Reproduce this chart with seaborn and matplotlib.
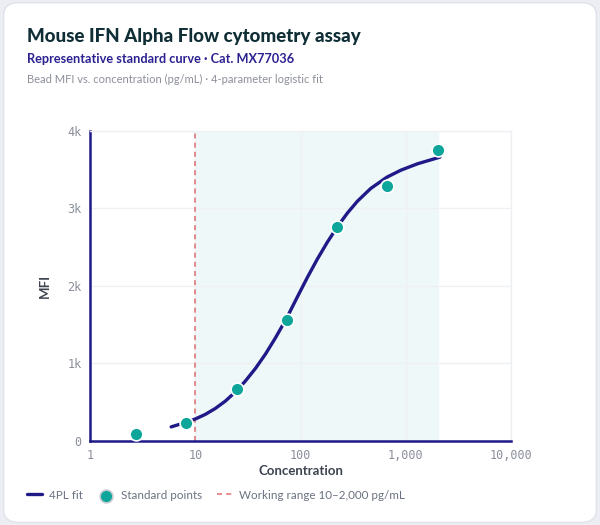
import pandas as pd
import matplotlib.pyplot as plt
import seaborn as sns
from matplotlib.patches import FancyBboxPatch

# Standard points (3-fold dilution series)
std_conc = [2.74, 8.23, 24.7, 74.1, 222, 667, 2000]
std_mfi = [94, 228, 667, 1565, 2757, 3286, 3759]

# 4PL fit curve, sampled from the chart
fit_conc = [5.9, 8.3, 10, 12.4, 15.5, 19.3, 24.6, 29.9, 37.3, 46.4, 57.6, 73.6,
            91.5, 116, 144, 179, 222, 279, 347, 464, 660, 895, 1290, 2100]
fit_mfi = [182, 244, 284, 342, 420, 515, 646, 774, 937, 1122, 1329, 1583,
           1838, 2111, 2346, 2563, 2759, 2943, 3095, 3259, 3404, 3494, 3577, 3662]

range_low, range_high = 10, 2000
x_ticks = [1, 10, 100, 1000, 10000]
x_tick_labels = ['1', '10', '100', '1,000', '10,000']
y_ticks = [0, 1000, 2000, 3000, 4000]
y_tick_labels = ['0', '1k', '2k', '3k', '4k']

navy = '#1f1a87'
teal = '#0ea59b'

sns.set_theme(style='white')
plt.rcParams['font.family'] = ['Lato', 'DejaVu Sans']

fit_df = pd.DataFrame({'conc': fit_conc, 'mfi': fit_mfi})
std_df = pd.DataFrame({'conc': std_conc, 'mfi': std_mfi})

fig = plt.figure(figsize=(6, 5.25), dpi=100)
fig.patch.set_facecolor('#eceef4')
card = FancyBboxPatch((0.006, 0.005), 0.988, 0.99, boxstyle='round,pad=0,rounding_size=0.025',
                      transform=fig.transFigure, facecolor='white', edgecolor='#dfe2ea',
                      linewidth=1, zorder=-10)
fig.patches.append(card)

ax = fig.add_axes([0.15, 0.16, 0.702, 0.5905])
ax.set_facecolor('none')

ax.axvspan(range_low, range_high, color='#eef8f9', zorder=0)
ax.axvline(range_low, color='#d9595c', linestyle=(0, (3, 2.5)), linewidth=1.2, alpha=0.8,
           label='Working range 10–2,000 pg/mL', zorder=2)

sns.lineplot(data=fit_df, x='conc', y='mfi', ax=ax, color=navy, linewidth=2.4,
             label='4PL fit', zorder=3)
sns.scatterplot(data=std_df, x='conc', y='mfi', ax=ax, color=teal, s=85,
                edgecolor='white', linewidth=1.2, label='Standard points', zorder=4)

ax.set_xscale('log')
ax.set_xlim(1, 10000)
ax.set_ylim(0, 4000)
ax.set_xticks(x_ticks)
ax.set_xticklabels(x_tick_labels, family='DejaVu Sans Mono', fontsize=8.5, color='#8a8f9a')
ax.set_yticks(y_ticks)
ax.set_yticklabels(y_tick_labels, family='DejaVu Sans Mono', fontsize=8.5, color='#8a8f9a')
ax.minorticks_off()
ax.tick_params(axis='both', length=0, pad=6)
ax.grid(True, color='#eef0f4', linewidth=1, zorder=1)
ax.set_axisbelow(True)

for side in ['top', 'right']:
    ax.spines[side].set_color('#eef0f4')
    ax.spines[side].set_linewidth(1)
for side in ['left', 'bottom']:
    ax.spines[side].set_color(navy)
    ax.spines[side].set_linewidth(1.8)

ax.set_xlabel('Concentration', fontsize=9.5, fontweight='bold', color='#3d4450', labelpad=2)
ax.set_ylabel('MFI', fontsize=9.5, fontweight='bold', color='#3d4450', labelpad=12)

handles, labels = ax.get_legend_handles_labels()
order = [labels.index('4PL fit'), labels.index('Standard points'),
         labels.index('Working range 10–2,000 pg/mL')]
leg = ax.legend([handles[i] for i in order], [labels[i] for i in order],
                loc='center left', bbox_to_anchor=(0.028, 0.057), bbox_transform=fig.transFigure,
                ncol=3, frameon=False, fontsize=8.4, labelcolor='#6b7280',
                handlelength=1.3, columnspacing=1.3, handletextpad=0.6)
leg.legend_handles[1].set_edgecolor('#c9ccd3')

fig.text(0.045, 0.93, 'Mouse IFN Alpha Flow cytometry assay', fontsize=13.5,
         fontweight='black', color='#0f2e35', va='center')
fig.text(0.045, 0.887, 'Representative standard curve · Cat. MX77036', fontsize=9.2,
         fontweight='bold', color='#2b2191', va='center')
fig.text(0.045, 0.849, 'Bead MFI vs. concentration (pg/mL) · 4-parameter logistic fit',
         fontsize=8.0, color='#8c9099', va='center')

fig.savefig('out.png', dpi=100, facecolor=fig.get_facecolor())
